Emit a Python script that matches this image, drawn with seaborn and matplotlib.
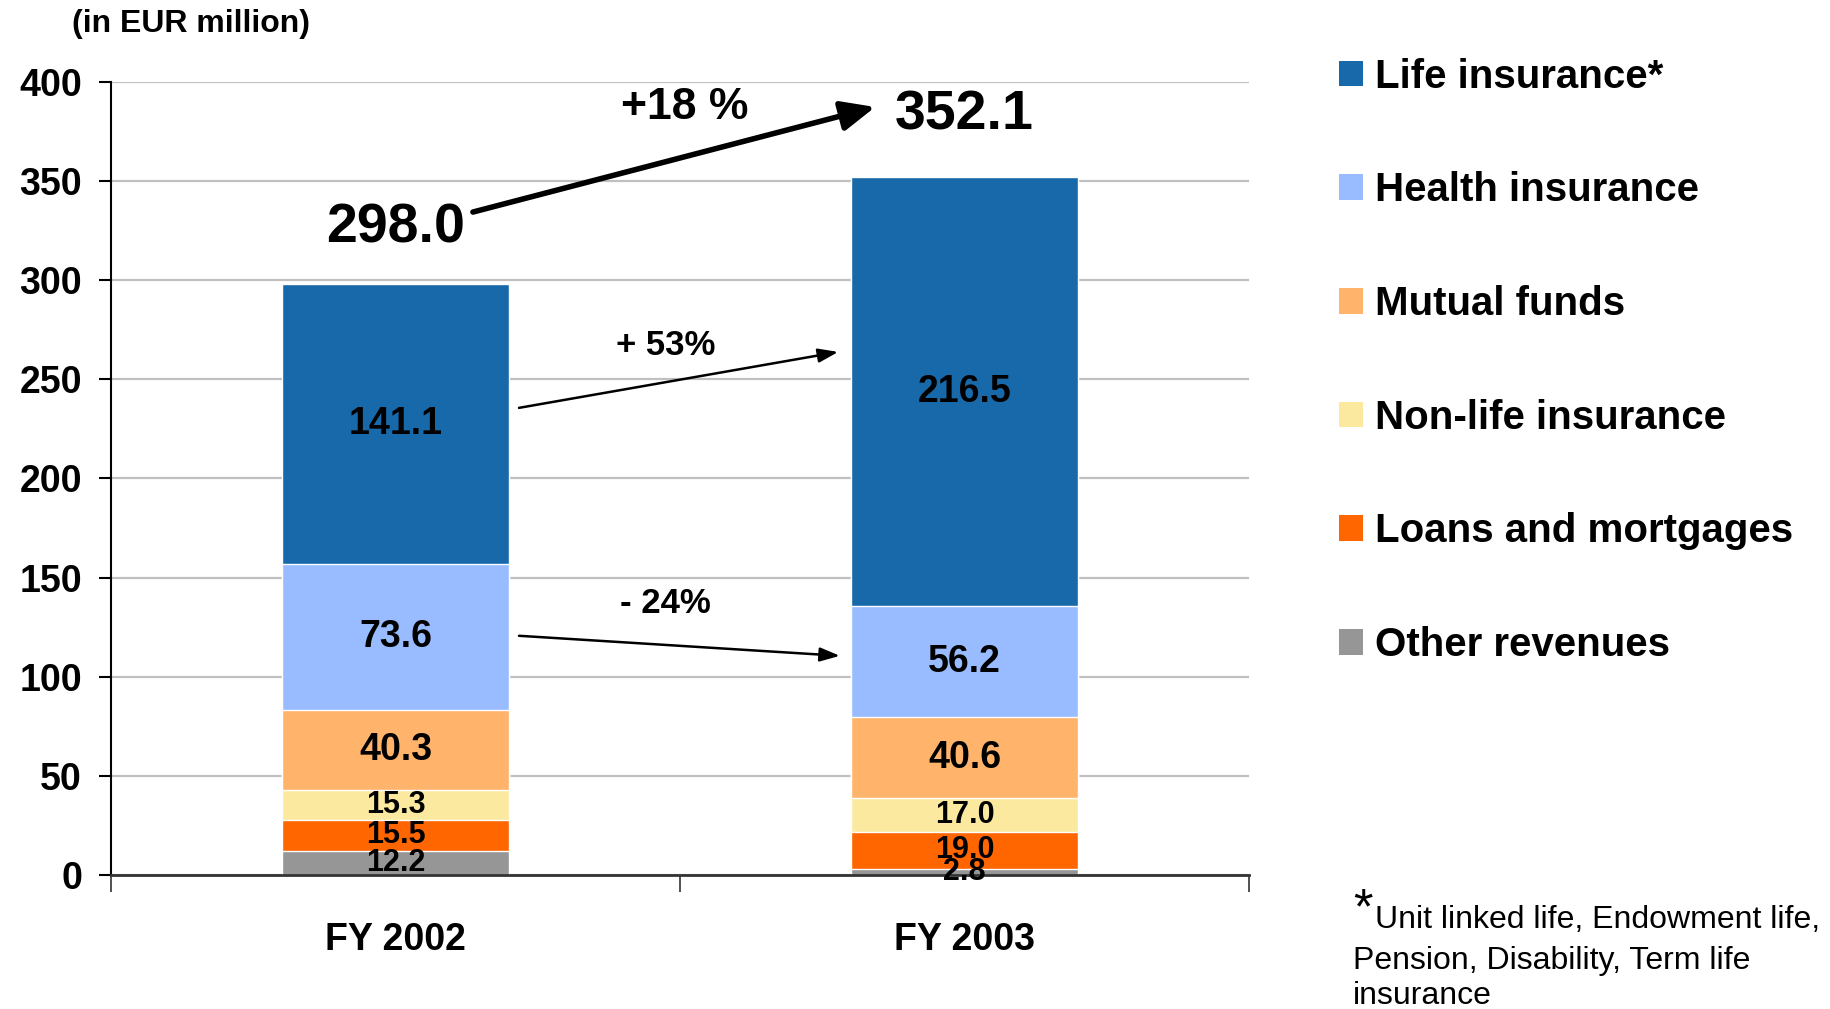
"""Revenue breakdown FY 2002 vs FY 2003 as a stacked bar chart."""

import matplotlib
matplotlib.use("Agg")
import matplotlib.pyplot as plt
from matplotlib.patches import Patch
import numpy as np
import pandas as pd
import seaborn as sns

sns.set_theme(style="white")
plt.rcParams["font.family"] = ["Liberation Sans", "DejaVu Sans"]
plt.rcParams["text.color"] = "black"
plt.rcParams["xtick.color"] = "black"
plt.rcParams["ytick.color"] = "black"

# data, bottom segment first
years = ["FY 2002", "FY 2003"]
components = ["Other revenues", "Loans and mortgages", "Non-life insurance",
              "Mutual funds", "Health insurance", "Life insurance*"]
other = [12.2, 2.8]
loans = [15.5, 19.0]
nonlife = [15.3, 17.0]
mutual = [40.3, 40.6]
health = [73.6, 56.2]
life = [141.1, 216.5]
colors = ["#969696", "#FF6600", "#FCE9A0", "#FFB36B", "#99BBFF", "#1869AA"]

totals_label = ["298.0", "352.1"]


def build_frame() -> pd.DataFrame:
    values = [other, loans, nonlife, mutual, health, life]
    rows = []
    for comp, vals in zip(components, values):
        for year, v in zip(years, vals):
            rows.append({"year": year, "component": comp, "value": v})
    df = pd.DataFrame(rows)
    df["component"] = pd.Categorical(df["component"], components, ordered=True)
    df = df.sort_values(["year", "component"])
    df["top"] = df.groupby("year")["value"].cumsum()
    df["bottom"] = df["top"] - df["value"]
    return df


def main() -> None:
    df = build_frame()
    fig = plt.figure(figsize=(18.3, 10.09), dpi=100)
    ax = fig.add_axes([0.0607, 0.133, 0.6218, 0.7857])

    # stacked look: draw cumulative tops from tallest to shortest
    for comp, color in reversed(list(zip(components, colors))):
        sub = df[df["component"] == comp]
        sns.barplot(data=sub, x="year", y="top", order=years, color=color,
                    width=0.4, saturation=1, ax=ax, zorder=2)

    # value labels in segment centres
    for _, r in df.iterrows():
        xi = years.index(r["year"])
        size = 27 if r["value"] > 30 else 22
        ax.text(xi, (r["top"] + r["bottom"]) / 2, f"{r['value']:.1f}",
                ha="center", va="center", fontsize=size, fontweight="bold", zorder=5)

    ax.set_xlim(-0.5, 1.5)
    ax.set_ylim(0, 400)
    ax.set_yticks(np.arange(0, 401, 50))
    ax.yaxis.grid(True, color="#C0C0C0", lw=1.6, zorder=0)
    ax.set_axisbelow(True)
    ax.set_xlabel("")
    ax.set_ylabel("")
    for side in ["top", "right"]:
        ax.spines[side].set_visible(False)
    ax.spines["left"].set_color("black")
    ax.spines["left"].set_linewidth(1.5)
    ax.spines["bottom"].set_color("#333333")
    ax.spines["bottom"].set_linewidth(2)
    ax.tick_params(axis="y", direction="out", length=9, width=1.5, color="black",
                   labelsize=27, pad=12, left=True)
    for lab in ax.get_yticklabels():
        lab.set_fontweight("bold")
    ax.set_xticks([0, 1])
    ax.set_xticklabels(years, fontsize=27, fontweight="bold")
    ax.tick_params(axis="x", which="major", length=0, pad=34)
    ax.set_xticks([-0.5, 0.5, 1.5], minor=True)
    ax.tick_params(axis="x", which="minor", direction="out", length=12, width=1.2,
                   color="#333333", bottom=True)

    # totals and growth arrows
    ax.text(0.0, 326, totals_label[0], ha="center", va="center", fontsize=40, fontweight="bold")
    ax.text(1.0, 383, totals_label[1], ha="center", va="center", fontsize=40, fontweight="bold")
    ax.annotate("", xy=(0.843, 387.4), xytext=(0.136, 334.4),
                arrowprops=dict(arrowstyle="-|>,head_length=1.7,head_width=0.75",
                                lw=4, color="black", shrinkA=0, shrinkB=0))
    ax.text(0.509, 387, "+18 %", ha="center", va="center", fontsize=32, fontweight="bold")

    ax.annotate("", xy=(0.778, 263.8), xytext=(0.217, 235.6),
                arrowprops=dict(arrowstyle="-|>,head_length=1.0,head_width=0.35",
                                lw=1.8, color="black", shrinkA=0, shrinkB=0))
    ax.text(0.474, 267, "+ 53%", ha="center", va="center", fontsize=25, fontweight="bold")
    ax.annotate("", xy=(0.781, 110.5), xytext=(0.217, 120.6),
                arrowprops=dict(arrowstyle="-|>,head_length=1.0,head_width=0.35",
                                lw=1.8, color="black", shrinkA=0, shrinkB=0))
    ax.text(0.474, 137, "- 24%", ha="center", va="center", fontsize=25, fontweight="bold")

    fig.text(0.0393, 0.976, "(in EUR million)", ha="left", va="center",
             fontsize=23, fontweight="bold")

    handles = [Patch(facecolor=c, edgecolor="none") for c in reversed(colors)]
    fig.legend(handles, list(reversed(components)), loc="upper left",
               bbox_to_anchor=(0.7317, 0.943), frameon=False,
               prop={"weight": "bold", "size": 29}, handlelength=0.6, handleheight=0.6,
               handletextpad=0.3, labelspacing=1.88, borderpad=0, borderaxespad=0)

    fig.text(0.7395, 0.098, "*", fontsize=36, ha="left", va="center")
    fig.text(0.7513, 0.088,
             "Unit linked life, Endowment life,", fontsize=23, ha="left", va="center")
    fig.text(0.7395, 0.0475,
             "Pension, Disability, Term life", fontsize=23, ha="left", va="center")
    fig.text(0.7395, 0.013,
             "insurance", fontsize=23, ha="left", va="center")

    fig.savefig("out.png", dpi=100)
    plt.close(fig)


if __name__ == "__main__":
    main()
